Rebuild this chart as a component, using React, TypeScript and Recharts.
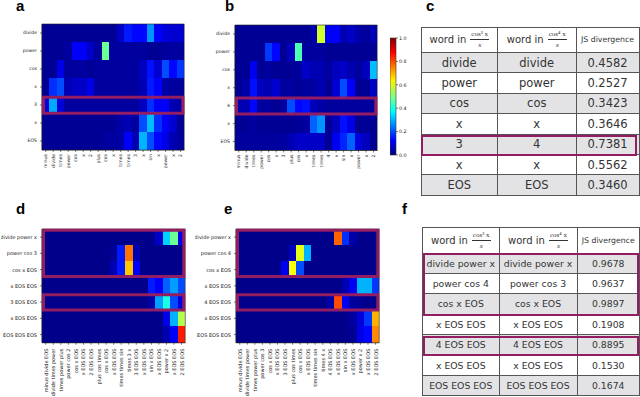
import React from "react";
import { ScatterChart, Scatter, XAxis, YAxis, ReferenceArea, BarChart, Bar } from "recharts";

const wordRowsA = ["divide", "power", "cos", "x", "3", "x", "EOS"];
const wordRowsB = ["divide", "power", "cos", "x", "4", "x", "EOS"];
const wordColsA = ["minus", "divide", "times", "power", "cos", "x", "2", "plus", "cos", "x", "times", "times", "3", "x", "sin", "x", "power", "x", "2"];
const wordColsB = ["minus", "divide", "times", "power", "cos", "x", "3", "plus", "cos", "x", "times", "times", "4", "x", "sin", "x", "power", "x", "2"];

const triRowsD = ["divide power x", "power cos 3", "cos x EOS", "x EOS EOS", "3 EOS EOS", "x EOS EOS", "EOS EOS EOS"];
const triRowsE = ["divide power x", "power cos 4", "cos x EOS", "x EOS EOS", "4 EOS EOS", "x EOS EOS", "EOS EOS EOS"];
const triColsD = ["minus divide EOS", "divide times power", "times power plus", "power cos 2", "cos x EOS", "x EOS EOS", "2 EOS EOS", "plus cos times", "cos x EOS", "x EOS EOS", "times times sin", "times 3 x", "3 EOS EOS", "x EOS EOS", "sin x EOS", "x EOS EOS", "power x 2", "x EOS EOS", "2 EOS EOS"];
const triColsE = ["minus divide EOS", "divide times power", "times power plus", "power cos 3", "cos x EOS", "x EOS EOS", "3 EOS EOS", "plus cos times", "cos x EOS", "x EOS EOS", "times times sin", "times 4 x", "4 EOS EOS", "x EOS EOS", "sin x EOS", "x EOS EOS", "power x 2", "x EOS EOS", "2 EOS EOS"];

const valuesA = [
  [.02, .02, .02, .02, .02, .02, .02, .02, .02, .02, .07, .15, .13, .13, .27, .12, .09, .08, .08],
  [.02, .02, .02, .03, .12, .12, .07, .03, .48, .03, .03, .03, .03, .03, .02, .02, .03, .03, .03],
  [.02, .02, .10, .03, .03, .03, .02, .03, .03, .03, .03, .03, .03, .06, .14, .08, .20, .13, .18],
  [.02, .17, .20, .05, .07, .07, .10, .03, .03, .03, .03, .03, .03, .05, .15, .12, .04, .03, .03],
  [.09, .29, .09, .03, .03, .03, .03, .03, .03, .03, .03, .03, .03, .06, .17, .12, .12, .05, .04],
  [.02, .02, .02, .02, .02, .02, .02, .02, .02, .02, .04, .05, .03, .20, .31, .17, .12, .08, .02],
  [.02, .02, .02, .02, .02, .02, .02, .02, .03, .03, .04, .12, .05, .30, .20, .13, .10, .05, .03],
];
const valuesB = [
  [.02, .02, .02, .02, .02, .02, .02, .02, .02, .02, .04, .58, .12, .12, .05, .07, .04, .03, .05],
  [.02, .02, .02, .02, .18, .13, .02, .06, .45, .03, .03, .03, .02, .02, .02, .02, .02, .02, .02],
  [.02, .02, .11, .02, .03, .02, .02, .02, .03, .07, .05, .05, .03, .06, .07, .05, .03, .06, .31],
  [.02, .04, .14, .06, .05, .08, .03, .03, .02, .03, .03, .05, .02, .08, .20, .12, .02, .02, .07],
  [.05, .05, .13, .03, .03, .02, .03, .20, .13, .14, .06, .04, .03, .03, .03, .03, .03, .03, .03],
  [.02, .02, .03, .02, .02, .02, .02, .02, .02, .03, .22, .27, .02, .06, .14, .10, .02, .02, .02],
  [.03, .03, .03, .03, .03, .03, .03, .05, .07, .07, .07, .07, .02, .11, .16, .22, .09, .06, .02],
];
const valuesD = [
  [.01, .01, .01, .01, .01, .01, .01, .01, .01, .01, .01, .01, .01, .01, .01, .07, .33, .48, .10],
  [.01, .01, .01, .01, .01, .01, .01, .01, .01, .02, .15, .76, .05, .01, .01, .01, .01, .01, .01],
  [.01, .01, .01, .01, .01, .01, .01, .01, .01, .05, .15, .68, .12, .01, .01, .01, .01, .01, .01],
  [.01, .01, .01, .01, .01, .01, .01, .01, .01, .01, .01, .01, .01, .01, .15, .12, .22, .28, .20],
  [.01, .01, .01, .01, .01, .01, .01, .01, .01, .01, .01, .01, .01, .01, .04, .28, .40, .20, .10],
  [.01, .01, .01, .01, .01, .01, .01, .01, .01, .01, .01, .01, .01, .01, .01, .01, .10, .30, .55],
  [.01, .01, .01, .01, .01, .01, .01, .01, .01, .01, .01, .01, .01, .01, .01, .01, .05, .12, .85],
];
const valuesE = [
  [.01, .01, .01, .01, .01, .01, .01, .01, .01, .01, .01, .01, .01, .78, .17, .04, .01, .01, .01],
  [.01, .01, .01, .01, .01, .01, .01, .06, .60, .30, .01, .01, .01, .01, .01, .01, .01, .01, .01],
  [.01, .01, .01, .01, .01, .01, .11, .62, .20, .01, .01, .01, .01, .01, .01, .01, .01, .01, .01],
  [.01, .01, .01, .01, .01, .01, .01, .01, .01, .01, .01, .01, .01, .01, .05, .11, .30, .30, .18],
  [.01, .01, .01, .01, .01, .01, .01, .01, .01, .01, .01, .01, .04, .80, .11, .03, .02, .01, .01],
  [.01, .01, .01, .01, .01, .01, .01, .01, .01, .01, .01, .01, .01, .01, .01, .03, .09, .18, .70],
  [.01, .01, .01, .01, .01, .01, .01, .01, .01, .01, .01, .01, .01, .01, .01, .02, .10, .13, .74],
];

const colorbarTicks = [0, 0.2, 0.4, 0.6, 0.8, 1];
const jetStops = [0, 0.11, 0.125, 0.35, 0.375, 0.5, 0.64, 0.65, 0.875, 0.89, 1];

const headerC = ["cos³ x", "cos⁴ x"];
const wordsC1 = ["divide", "power", "cos", "x", "3", "x", "EOS"];
const wordsC2 = ["divide", "power", "cos", "x", "4", "x", "EOS"];
const jsC = ["0.4582", "0.2527", "0.3423", "0.3646", "0.7381", "0.5562", "0.3460"];
const wordsF1 = ["divide power x", "power cos 4", "cos x EOS", "x EOS EOS", "4 EOS EOS", "x EOS EOS", "EOS EOS EOS"];
const wordsF2 = ["divide power x", "power cos 3", "cos x EOS", "x EOS EOS", "4 EOS EOS", "x EOS EOS", "EOS EOS EOS"];
const jsF = ["0.9678", "0.9637", "0.9897", "0.1908", "0.8895", "0.1530", "0.1674"];

const PURPLE = "#931d62";
const MONO = "'DejaVu Sans'";

function clamp(v: number) {
  return Math.max(0, Math.min(1, v));
}

// same piecewise ramps as matplotlib's jet
function jet(v: number) {
  const r = clamp(Math.min(4 * v - 1.5, -4 * v + 4.5));
  const g = clamp(Math.min(4 * v - 0.5, -4 * v + 3.5));
  const b = clamp(Math.min(4 * v + 0.5, -4 * v + 2.5));
  return `rgb(${Math.round(r * 255)},${Math.round(g * 255)},${Math.round(b * 255)})`;
}

interface HeatmapProps {
  left: number;
  top: number;
  plotW: number;
  plotH: number;
  rows: string[];
  cols: string[];
  values: number[][];
  fontSize: number;
  labelGap: number;
  boxes: number[][];
}

function Heatmap({ left, top, plotW, plotH, rows, cols, values, fontSize, labelGap, boxes }: HeatmapProps) {
  const yW = 41;
  const xH = 62;
  const pad = 4;
  const cellW = plotW / cols.length;
  const cellH = plotH / rows.length;
  const cells = values.flatMap((line, row) => line.map((v, col) => ({ row, col, v })));

  const drawCell = (p: any) => (
    <rect
      x={p.cx - cellW / 2}
      y={p.cy - cellH / 2}
      width={p.payload.col === cols.length - 1 ? cellW : cellW + 1}
      height={p.payload.row === rows.length - 1 ? cellH : cellH + 1}
      fill={jet(p.payload.v)}
      shapeRendering="crispEdges"
    />
  );

  const drawXTick = (p: any) => (
    <text
      x={p.x}
      y={p.y}
      transform={`rotate(-90 ${p.x} ${p.y})`}
      textAnchor="end"
      dominantBaseline="central"
      fontSize={fontSize}
      fontFamily={MONO}
      fill="#222"
      dx={-labelGap}
    >
      {cols[p.payload.value]}
    </text>
  );

  const drawYTick = (p: any) => (
    <text
      x={p.x - 1}
      y={p.y}
      textAnchor="end"
      dominantBaseline="central"
      fontSize={fontSize}
      fontFamily={MONO}
      fill="#222"
    >
      {rows[p.payload.value]}
    </text>
  );

  return (
    <div style={{ position: "absolute", left: left - yW, top: top - pad }}>
      <ScatterChart
        width={yW + plotW + pad}
        height={pad + plotH + xH}
        margin={{ top: pad, right: pad, bottom: 0, left: 0 }}
      >
        <XAxis
          type="number"
          dataKey="col"
          domain={[-0.5, cols.length - 0.5]}
          ticks={cols.map((_, i) => i)}
          interval={0}
          height={xH}
          tickSize={2}
          tick={drawXTick}
          stroke="#222"
          strokeWidth={0.6}
        />
        <YAxis
          type="number"
          dataKey="row"
          reversed
          domain={[-0.5, rows.length - 0.5]}
          ticks={rows.map((_, i) => i)}
          interval={0}
          width={yW}
          tickSize={2}
          tick={drawYTick}
          stroke="#222"
          strokeWidth={0.6}
        />
        <Scatter data={cells} shape={drawCell} isAnimationActive={false} />
        <ReferenceArea
          x1={-0.5}
          x2={cols.length - 0.5}
          y1={-0.5}
          y2={rows.length - 0.5}
          fill="none"
          stroke="#222"
          strokeWidth={0.6}
          ifOverflow="visible"
          zIndex={1000}
        />
        {boxes.map(([y1, y2], i) => (
          <ReferenceArea
            key={i}
            x1={-0.3}
            x2={cols.length - 0.7}
            y1={y1}
            y2={y2}
            fill="none"
            stroke={PURPLE}
            strokeWidth={3}
            ifOverflow="visible"
            zIndex={1001}
          />
        ))}
      </ScatterChart>
    </div>
  );
}

function Colorbar() {
  return (
    <div style={{ position: "absolute", left: 390, top: 34 }}>
      <BarChart
        width={30}
        height={125}
        data={[{ level: 1 }]}
        margin={{ top: 4, right: 0, bottom: 4, left: 0 }}
        barCategoryGap={0}
      >
        <defs>
          <linearGradient id="jetBar" x1="0" y1="1" x2="0" y2="0">
            {jetStops.map((s) => (
              <stop key={s} offset={s} stopColor={jet(s)} />
            ))}
          </linearGradient>
        </defs>
        <XAxis dataKey="level" hide />
        <YAxis
          orientation="right"
          type="number"
          domain={[0, 1]}
          ticks={colorbarTicks}
          width={24}
          tickSize={2}
          tickMargin={1}
          tickFormatter={(v: number) => v.toFixed(1)}
          tick={{ fontSize: 4.8, fontFamily: MONO, fill: "#222" }}
          axisLine={false}
          stroke="#222"
          strokeWidth={0.6}
        />
        <Bar dataKey="level" fill="url(#jetBar)" stroke="#333" strokeWidth={0.6} isAnimationActive={false} />
      </BarChart>
    </div>
  );
}

function Fraction({ top: num }: { top: string }) {
  return (
    <span
      style={{
        display: "inline-block",
        verticalAlign: "middle",
        textAlign: "center",
        fontFamily: "'Liberation Serif'",
        fontSize: 7,
        lineHeight: "8px",
        marginLeft: 4,
      }}
    >
      <span style={{ display: "block", borderBottom: "0.7px solid #333", padding: "0 1px 1px" }}>{num}</span>
      <span style={{ display: "block", fontStyle: "italic", paddingTop: 1 }}>x</span>
    </span>
  );
}

interface WordTableProps {
  left: number;
  top: number;
  colW: number[];
  col1: string[];
  col2: string[];
  js: string[];
  fontSize: number;
}

function WordTable({ left, top, colW, col1, col2, js, fontSize }: WordTableProps) {
  const line = "1px solid #555";
  const cell: React.CSSProperties = { borderRight: line, borderBottom: line, textAlign: "center", padding: 0, whiteSpace: "nowrap" };
  return (
    <table
      style={{
        position: "absolute",
        left,
        top,
        borderCollapse: "separate",
        borderSpacing: 0,
        borderTop: line,
        borderLeft: line,
        tableLayout: "fixed",
        width: colW[0] + colW[1] + colW[2],
        fontFamily: MONO,
        fontSize,
        color: "#333",
      }}
    >
      <colgroup>
        {colW.map((w, i) => (
          <col key={i} style={{ width: w }} />
        ))}
      </colgroup>
      <tbody>
        <tr style={{ height: 25.5, fontSize: 10 }}>
          <td style={cell}>
            word in<Fraction top={headerC[0]} />
          </td>
          <td style={cell}>
            word in<Fraction top={headerC[1]} />
          </td>
          <td style={{ ...cell, fontSize: 7.8 }}>JS divergence</td>
        </tr>
        {js.map((v, i) => (
          <tr key={i} style={{ height: 20.4, background: i % 2 === 0 ? "#e3e3e6" : "#fff" }}>
            <td style={cell}>{col1[i]}</td>
            <td style={cell}>{col2[i]}</td>
            <td style={cell}>{v}</td>
          </tr>
        ))}
      </tbody>
    </table>
  );
}

function Highlight({ x, y, w, h }: { x: number; y: number; w: number; h: number }) {
  return (
    <div
      style={{
        position: "absolute",
        left: x,
        top: y,
        width: w,
        height: h,
        boxSizing: "border-box",
        border: `2px solid ${PURPLE}`,
      }}
    />
  );
}

function PanelLetter({ x, y, children }: { x: number; y: number; children: string }) {
  return (
    <div
      style={{
        position: "absolute",
        left: x,
        top: y,
        fontFamily: "'Liberation Sans'",
        fontWeight: "bold",
        fontSize: 15,
        lineHeight: "7px",
        color: "#000",
      }}
    >
      {children}
    </div>
  );
}

export default function App() {
  return (
    <div style={{ position: "absolute", left: 0, top: 0, width: 640, height: 397, background: "#fff", overflow: "hidden" }}>
      <PanelLetter x={16} y={2}>a</PanelLetter>
      <PanelLetter x={225} y={2}>b</PanelLetter>
      <PanelLetter x={426} y={2}>c</PanelLetter>
      <PanelLetter x={16} y={205}>d</PanelLetter>
      <PanelLetter x={224} y={205}>e</PanelLetter>
      <PanelLetter x={402} y={205}>f</PanelLetter>

      <Heatmap left={41.7} top={24} plotW={142.3} plotH={126} rows={wordRowsA} cols={wordColsA} values={valuesA} fontSize={4.6} labelGap={0} boxes={[[3.57, 4.46]]} />
      <Heatmap left={234.5} top={25} plotW={142.3} plotH={125.5} rows={wordRowsB} cols={wordColsB} values={valuesB} fontSize={4.6} labelGap={0} boxes={[[3.57, 4.46]]} />
      <Colorbar />
      <Heatmap left={41.7} top={229} plotW={143.3} plotH={113.7} rows={triRowsD} cols={triColsD} values={valuesD} fontSize={5} labelGap={2} boxes={[[-0.42, 2.42], [3.55, 4.48]]} />
      <Heatmap left={235.7} top={229} plotW={143.3} plotH={113.7} rows={triRowsE} cols={triColsE} values={valuesE} fontSize={5} labelGap={2} boxes={[[-0.42, 2.42], [3.55, 4.48]]} />

      <WordTable left={420.5} top={26.5} colW={[76.5, 78.5, 63]} col1={wordsC1} col2={wordsC2} js={jsC} fontSize={11.5} />
      <Highlight x={421} y={135} w={216} h={20.5} />
      <WordTable left={422} top={227} colW={[76.5, 78, 62.5]} col1={wordsF1} col2={wordsF2} js={jsF} fontSize={9.3} />
      <Highlight x={422.5} y={253} w={216} h={63} />
      <Highlight x={422.5} y={335.5} w={216} h={20.5} />
    </div>
  );
}
